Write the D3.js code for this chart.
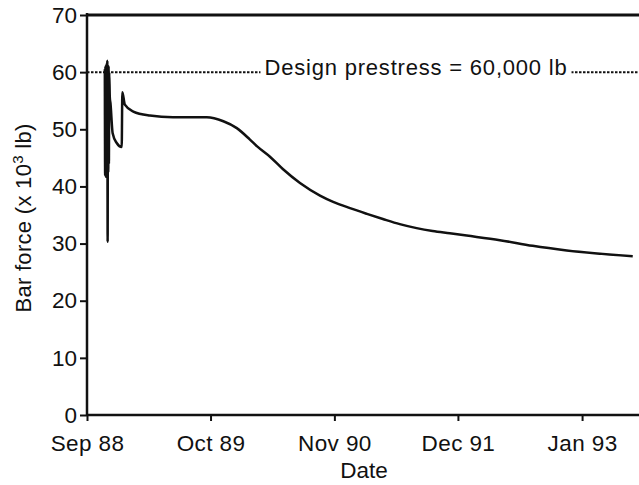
<!DOCTYPE html>
<meta charset="UTF-8">
<style>
  body { margin: 0; background: #fff; }
  text { font-family: "Liberation Sans", Arial, sans-serif; fill: #111; }
</style>
<svg width="639" height="485"></svg>
<script src="https://cdn.jsdelivr.net/npm/d3@7"></script>
<script>

var svg = d3.select("svg"),
    mLeft = 87, mRight = 639, mTop = 15, mBottom = 415;

// bar force readings, thousands of lb
var dates = ["1988-10-28", "1988-10-29", "1988-10-30", "1988-10-31", "1988-11-01", "1988-11-02",
  "1988-11-03", "1988-11-04", "1988-11-05", "1988-11-06", "1988-11-07", "1988-11-08",
  "1988-11-09", "1988-11-10", "1988-11-11", "1988-11-13", "1988-11-15", "1988-11-22",
  "1988-12-05", "1988-12-21", "1988-12-23", "1988-12-31", "1989-01-27", "1989-03-21",
  "1989-06-03", "1989-09-19", "1989-11-11", "1989-12-24", "1990-02-04", "1990-02-27",
  "1990-04-09", "1990-05-21", "1990-07-14", "1990-09-16", "1990-10-28", "1990-12-21",
  "1991-02-13", "1991-04-05", "1991-05-29", "1991-07-22", "1991-09-11", "1991-11-05",
  "1991-12-29", "1992-04-13", "1992-07-27", "1992-11-13", "1993-06-12"];
var force = [60.5, 42, 61, 41.7, 60.5, 43,
  61.5, 42, 62, 30.3, 60.5, 42.5,
  61, 44, 60, 55.5, 54.6, 49.3,
  47.6, 46.9, 56.5, 54.3, 53.1, 52.4,
  52.1, 52.1, 51.4, 50.2, 48.2, 47.0,
  45.2, 43.0, 40.6, 38.4, 37.3, 36.2,
  35.2, 34.3, 33.4, 32.7, 32.2, 31.8,
  31.4, 30.6, 29.6, 28.8, 27.8];

var xTicks = ["1988-09-01", "1989-10-01", "1990-11-01", "1991-12-01", "1993-01-01"];
var xTickLabels = ["Sep 88", "Oct 89", "Nov 90", "Dec 91", "Jan 93"];
var yTicks = [0, 10, 20, 30, 40, 50, 60, 70];
var designLoad = 60;
var designLabel = "Design prestress = 60,000 lb";

var parse = d3.timeParse("%Y-%m-%d");

var x = d3.scaleTime()
    .domain([parse("1988-09-01"), parse("1993-07-02")])
    .range([mLeft, mRight]);

var y = d3.scaleLinear()
    .domain([0, 70])
    .range([mBottom, mTop]);

// design prestress line, with the label sitting on a white patch
svg.append("line")
    .attr("x1", mLeft).attr("x2", mRight)
    .attr("y1", y(designLoad)).attr("y2", y(designLoad))
    .attr("stroke", "#111").attr("stroke-width", 2)
    .attr("stroke-dasharray", "2.5,1.5");

var lbl = svg.append("text")
    .attr("x", 416).attr("y", y(designLoad) + 3)
    .attr("text-anchor", "middle")
    .style("font-size", "22px")
    .style("letter-spacing", "0.8px")
    .text(designLabel);
var bb = lbl.node().getBBox();
svg.insert("rect", "text")
    .attr("x", bb.x - 4).attr("y", y(designLoad) - 4)
    .attr("width", bb.width + 8).attr("height", 8)
    .attr("fill", "#fff");

// y axis
var yAxis = svg.append("g")
    .attr("transform", "translate(" + mLeft + ",0)")
    .call(d3.axisLeft(y).tickValues(yTicks).tickSize(7).tickPadding(3));
yAxis.select(".domain").remove();
yAxis.selectAll(".tick line").attr("stroke", "#111").attr("stroke-width", 2);
yAxis.selectAll("text")
    .style("font-size", "22.5px")
    .style("font-family", "'Liberation Sans', Arial, sans-serif")
    .attr("fill", "#111");

// x axis
var xAxis = svg.append("g")
    .attr("transform", "translate(0," + mBottom + ")")
    .call(d3.axisBottom(x)
      .tickValues(xTicks.map(parse))
      .tickFormat(function(d, i) { return xTickLabels[i]; })
      .tickSize(6).tickPadding(14));
xAxis.select(".domain").remove();
xAxis.selectAll(".tick line").attr("stroke", "#111").attr("stroke-width", 2);
xAxis.selectAll("text")
    .style("font-size", "22.5px")
    .style("letter-spacing", "0.4px")
    .style("font-family", "'Liberation Sans', Arial, sans-serif")
    .attr("fill", "#111");

// frame: left axis, top edge, bottom axis
svg.append("line").attr("x1", mLeft).attr("x2", mLeft).attr("y1", mTop - 2).attr("y2", mBottom + 1)
    .attr("stroke", "#111").attr("stroke-width", 2.5);
svg.append("line").attr("x1", mLeft).attr("x2", mRight).attr("y1", mTop).attr("y2", mTop)
    .attr("stroke", "#111").attr("stroke-width", 3);
svg.append("line").attr("x1", mLeft).attr("x2", mRight).attr("y1", mBottom).attr("y2", mBottom)
    .attr("stroke", "#111").attr("stroke-width", 2.5);

// the force record
var line = d3.line()
    .x(function(d) { return x(parse(d[0])); })
    .y(function(d) { return y(d[1]); })
    .curve(d3.curveMonotoneX);

svg.append("path")
    .datum(d3.zip(dates, force))
    .attr("d", line)
    .attr("fill", "none")
    .attr("stroke", "#111")
    .attr("stroke-width", 2.5)
    .attr("stroke-linejoin", "round");

// axis titles
svg.append("text")
    .attr("x", (mLeft + mRight) / 2 + 1).attr("y", 478)
    .attr("text-anchor", "middle")
    .style("font-size", "22.5px")
    .text("Date");

var yt = svg.append("text")
    .attr("transform", "translate(31,218) rotate(-90)")
    .attr("text-anchor", "middle")
    .style("font-size", "22px")
    .style("letter-spacing", "0.3px");
yt.append("tspan").text("Bar force (x 10");
yt.append("tspan").attr("dy", -8).style("font-size", "15px").text("3");
yt.append("tspan").attr("dy", 8).text(" lb)");

</script>
